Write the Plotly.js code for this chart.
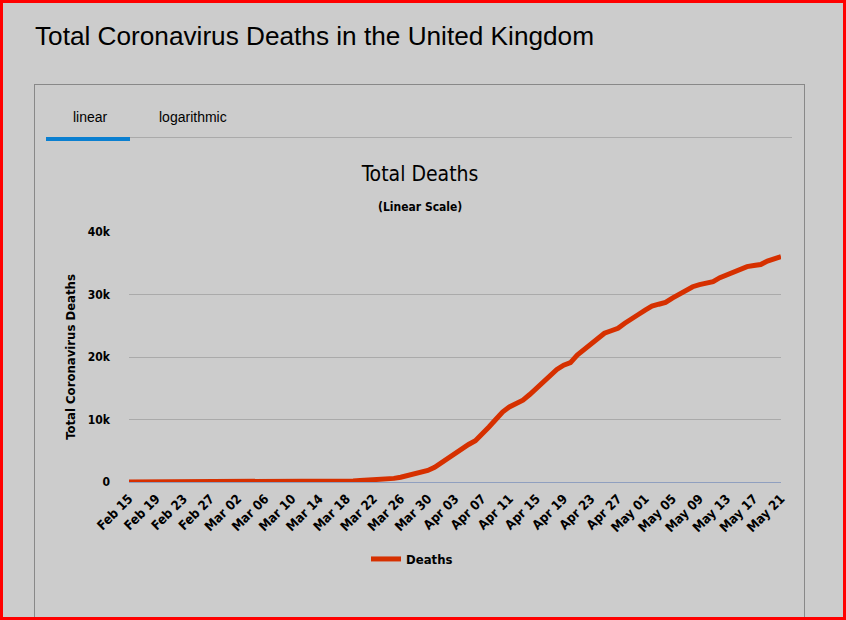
<!DOCTYPE html>
<html>
<head>
<meta charset="utf-8">
<script src="https://cdn.plot.ly/plotly-3.0.1.min.js"></script>
<style>
  html, body { margin: 0; padding: 0; }
  #page { position: relative; width: 846px; height: 620px; background: #cccccc; overflow: hidden; font-family: "Liberation Sans", Arial, sans-serif; }
  #frame { position: absolute; left: 0; top: 0; width: 846px; height: 620px; box-sizing: border-box; border: 3px solid #ff0000; z-index: 10; pointer-events: none; }
  #h1 { position: absolute; left: 35px; top: 23px; font-size: 26.2px; line-height: 1; color: #000; white-space: nowrap; }
  #box { position: absolute; left: 34px; top: 84px; width: 769px; height: 600px; border: 1px solid #888888; }
  .tab { position: absolute; top: 109px; font-size: 14px; line-height: 16px; color: #000; }
  #tabline { position: absolute; left: 46px; top: 137px; width: 746px; height: 1px; background: #aaaaaa; }
  #tabsel { position: absolute; left: 46px; top: 137px; width: 84px; height: 4px; background: #0a7fd0; }
  #chart { position: absolute; left: 0; top: 0; width: 846px; height: 620px; }
</style>
</head>
<body>
<div id="page">
  <div id="h1">Total Coronavirus Deaths in the United Kingdom</div>
  <div id="box"></div>
  <div class="tab" style="left:73px">linear</div>
  <div class="tab" style="left:159px">logarithmic</div>
  <div id="tabline"></div>
  <div id="tabsel"></div>
  <div id="chart"></div>
  <div id="frame"></div>
</div>
<script>
// ---- data ----
const labels = [
  "Feb 15","Feb 16","Feb 17","Feb 18","Feb 19","Feb 20","Feb 21","Feb 22","Feb 23","Feb 24","Feb 25","Feb 26","Feb 27","Feb 28","Feb 29",
  "Mar 01","Mar 02","Mar 03","Mar 04","Mar 05","Mar 06","Mar 07","Mar 08","Mar 09","Mar 10","Mar 11","Mar 12","Mar 13","Mar 14","Mar 15","Mar 16",
  "Mar 17","Mar 18","Mar 19","Mar 20","Mar 21","Mar 22","Mar 23","Mar 24","Mar 25","Mar 26","Mar 27","Mar 28","Mar 29","Mar 30","Mar 31",
  "Apr 01","Apr 02","Apr 03","Apr 04","Apr 05","Apr 06","Apr 07","Apr 08","Apr 09","Apr 10","Apr 11","Apr 12","Apr 13","Apr 14","Apr 15",
  "Apr 16","Apr 17","Apr 18","Apr 19","Apr 20","Apr 21","Apr 22","Apr 23","Apr 24","Apr 25","Apr 26","Apr 27","Apr 28","Apr 29","Apr 30",
  "May 01","May 02","May 03","May 04","May 05","May 06","May 07","May 08","May 09","May 10","May 11","May 12","May 13","May 14","May 15",
  "May 16","May 17","May 18","May 19","May 20","May 21"
];
const deaths = [
  0,0,0,0,0,0,0,0,0,0,0,0,0,0,0,
  0,0,0,0,1,2,2,3,4,6,8,10,21,35,55,71,
  104,144,177,233,281,335,422,480,580,760,1000,1250,1500,1850,2350,
  3100,3900,4700,5400,6000,6600,7600,8800,10000,11200,12000,12600,13100,14000,15000,
  16000,17000,18000,18700,19100,20300,21200,22000,23000,23800,24200,24600,25400,26200,26800,
  27500,28131,28446,28734,29427,30076,30615,31241,31587,31855,32065,32692,33186,33614,33998,
  34466,34636,34796,35341,35704,36042
];
const xTickLabels = ["Feb 15","Feb 19","Feb 23","Feb 27","Mar 02","Mar 06","Mar 10","Mar 14","Mar 18","Mar 22","Mar 26","Mar 30",
  "Apr 03","Apr 07","Apr 11","Apr 15","Apr 19","Apr 23","Apr 27","May 01","May 05","May 09","May 13","May 17","May 21"];
const yTickVals = [0, 10000, 20000, 30000, 40000];
const yTickText = ["0", "10k", "20k", "30k", "40k"];
const seriesName = "Deaths";
const chartTitle = "Total Deaths";
const chartSubtitle = "(Linear Scale)";
const yTitle = "Total Coronavirus Deaths";

const FONT = '"DejaVu Sans Condensed", "DejaVu Sans", sans-serif';

const trace = {
  type: "scatter",
  mode: "lines",
  x: labels,
  y: deaths,
  name: seriesName,
  line: { color: "#d63000", width: 5, shape: "linear" },
  hoverinfo: "x+y"
};

const layout = {
  width: 846, height: 620,
  paper_bgcolor: "rgba(0,0,0,0)",
  plot_bgcolor: "rgba(0,0,0,0)",
  margin: { l: 129, r: 65, t: 232, b: 138, pad: 0 },
  font: { family: FONT, color: "#000", size: 12 },
  title: {
    text: chartTitle,
    font: { family: FONT, size: 21, color: "#000" },
    x: 420 / 846, xref: "container", xanchor: "center",
    y: 1 - 174 / 620, yref: "container", yanchor: "middle"
  },
  annotations: [{
    text: chartSubtitle, showarrow: false,
    xref: "paper", yref: "paper",
    x: (420 - 129) / 652, y: (482 - 207) / 250,
    xanchor: "center", yanchor: "middle",
    font: { family: FONT, size: 12, color: "#000", weight: "bold" }
  }],
  xaxis: {
    type: "category",
    range: [0, labels.length - 1],
    tickmode: "array",
    tickvals: xTickLabels,
    ticktext: xTickLabels,
    tickangle: -45,
    tickfont: { family: FONT, size: 13, color: "#000", weight: "bold" },
    ticklabelstandoff: 3,
    showgrid: false,
    showline: true, linecolor: "#8f9fbf", linewidth: 1,
    ticks: "", zeroline: false, fixedrange: true
  },
  yaxis: {
    range: [0, 40000],
    tickmode: "array",
    tickvals: yTickVals,
    ticktext: yTickText,
    tickfont: { family: FONT, size: 12, color: "#000", weight: "bold" },
    showgrid: true, gridcolor: "#aaaaaa", gridwidth: 1,
    zeroline: false, showline: false, ticks: "",
    ticklabelstandoff: 18,
    title: { text: yTitle, font: { family: FONT, size: 13, color: "#000", weight: "bold" }, standoff: 9 },
    fixedrange: true
  },
  showlegend: true,
  legend: {
    orientation: "h",
    x: (412 - 129) / 652, xanchor: "center",
    y: 1 - 559 / 620, yref: "container", yanchor: "middle",
    font: { family: FONT, size: 13, color: "#000", weight: "bold" },
    bgcolor: "rgba(0,0,0,0)",
    itemwidth: 30
  }
};

Plotly.newPlot("chart", [trace], layout, { displayModeBar: false, staticPlot: true });
</script>
</body>
</html>
